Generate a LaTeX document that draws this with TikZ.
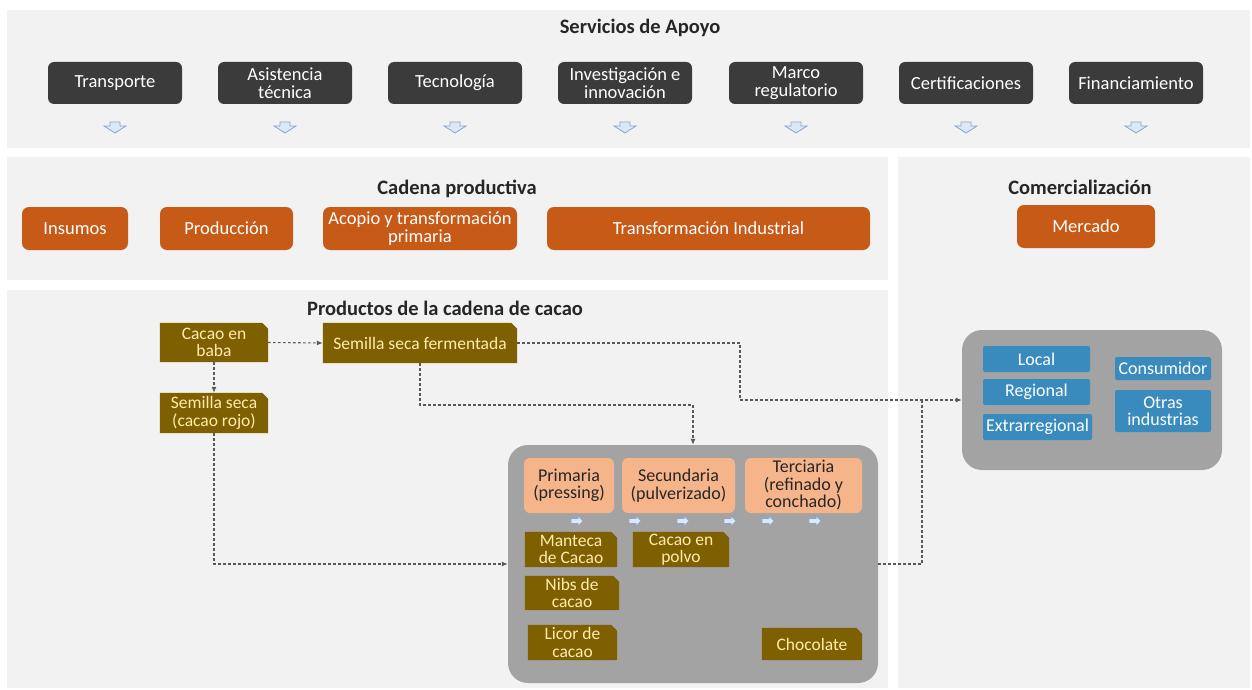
\documentclass[tikz,border=0pt]{standalone}
\usepackage{fontspec}
\setmainfont{Carlito}
\usetikzlibrary{arrows.meta,calc}
\definecolor{panel}{HTML}{F2F2F2}
\definecolor{darkbox}{HTML}{3B3B3B}
\definecolor{orangebox}{HTML}{C85A17}
\definecolor{brownbox}{HTML}{7F6000}
\definecolor{browntext}{HTML}{FFEBB0}
\definecolor{salmon}{HTML}{F6B48A}
\definecolor{graybox}{HTML}{A3A3A3}
\definecolor{bluebox}{HTML}{3A8BBD}
\definecolor{linec}{HTML}{5A5A50}
\definecolor{arrfill}{HTML}{DDE8F5}
\definecolor{arrline}{HTML}{8AA6CF}
\pgfdeclarelayer{back}
\pgfdeclarelayer{mid}
\pgfsetlayers{back,mid,main}
\tikzset{
  base/.style={font=\fontsize{18.5}{18}\selectfont,align=center,inner sep=0pt},
  darkb/.style={base,fill=darkbox,text=white,rounded corners=6pt},
  orangeb/.style={base,fill=orangebox,text=white,rounded corners=7pt},
  brownb/.style={base,font=\fontsize{17.5}{17.5}\selectfont,text=browntext},
  salmonb/.style={base,font=\fontsize{18}{17.5}\selectfont,fill=salmon,text=black!85,rounded corners=6pt},
  blueb/.style={base,font=\fontsize{18}{17.5}\selectfont,fill=bluebox,text=white,rounded corners=2pt},
  grayb/.style={fill=graybox,rounded corners=20pt,inner sep=0pt},
  ttl/.style={font=\fontsize{20.5}{22}\selectfont\bfseries,text=black!85},
  conn/.style={draw=linec,line width=1.1pt,dash pattern=on 2.5pt off 2.5pt,-{Latex[length=6pt,width=5pt]}},
  connplain/.style={draw=linec,line width=1.1pt,dash pattern=on 2.5pt off 2.5pt},
  downarr/.pic={\filldraw[fill=arrfill,draw=arrline,line width=0.8pt] (-5,-5)--(5,-5)--(5,-1)--(11,-1)--(0,6)--(-11,-1)--(-5,-1)--cycle;},
  rarr/.pic={\filldraw[fill=arrfill,draw=arrline,line width=0.6pt] (-6,-2.5)--(1,-2.5)--(1,-5)--(6,0)--(1,5)--(1,2.5)--(-6,2.5)--cycle;}
}
\begin{document}
\begin{tikzpicture}[x=1pt,y=-1pt]
\useasboundingbox (0,0) rectangle (1252,690);
\begin{pgfonlayer}{back}
\fill[white] (0,0) rectangle (1252,690);
\fill[panel] (7,10) rectangle (1250,148);
\fill[panel] (7,157) rectangle (888,280);
\fill[panel] (898,157) rectangle (1250,688);
\fill[panel] (7,290) rectangle (888,688);
\node[grayb,minimum width=370pt,minimum height=238pt] (tbox) at (693,564) {};
\node[grayb,minimum width=260pt,minimum height=140pt] (mbox) at (1092,400) {};
\end{pgfonlayer}

% titles
\node[ttl] (t1) at (640,28) {Servicios de Apoyo};
\node[ttl] (t2) at (457,189) {Cadena productiva};
\node[ttl] (t3) at (1080,187) {Comercialización};
\node[ttl] (t4) at (445,308) {Productos de la cadena de cacao};

% support services
\node[darkb,minimum width=134pt,minimum height=42pt] (s1) at (115,83) {Transporte};
\node[darkb,minimum width=134pt,minimum height=42pt] (s2) at (285,83) {Asistencia\\técnica};
\node[darkb,minimum width=134pt,minimum height=42pt] (s3) at (455,83) {Tecnología};
\node[darkb,minimum width=134pt,minimum height=42pt] (s4) at (625,83) {Investigación e\\innovación};
\node[darkb,minimum width=134pt,minimum height=42pt] (s5) at (796,83) {Marco\\regulatorio};
\node[darkb,minimum width=134pt,minimum height=42pt] (s6) at (966,83) {Certificaciones};
\node[darkb,minimum width=134pt,minimum height=42pt] (s7) at (1136,83) {Financiamiento};
\foreach \x in {115,285,455,625,796,966,1136} \pic at (\x,127) {downarr};

% cadena productiva
\node[orangeb,minimum width=106pt,minimum height=43pt] (c1) at (75,228.5) {Insumos};
\node[orangeb,minimum width=133pt,minimum height=43pt] (c2) at (226.5,228.5) {Producción};
\node[orangeb,minimum width=194pt,minimum height=43pt] (c3) at (420,228.5) {Acopio y transformación\\primaria};
\node[orangeb,minimum width=323pt,minimum height=43pt] (c4) at (708.5,228.5) {Transformación Industrial};
\node[orangeb,minimum width=138pt,minimum height=43pt] (c5) at (1086,226.5) {Mercado};

% products
\node[brownb,minimum width=108pt,minimum height=39pt] (cb) at (214,342.5) {Cacao en\\baba};
\node[brownb,minimum width=194pt,minimum height=40pt] (ssf) at (420,343) {Semilla seca fermentada};
\node[brownb,minimum width=108pt,minimum height=40pt] (scr) at (214,413) {Semilla seca\\(cacao rojo)};

\node[salmonb,minimum width=90pt,minimum height=55pt] (pri) at (569,485.5) {Primaria\\(pressing)};
\node[salmonb,minimum width=113pt,minimum height=55pt] (sec) at (678.5,485.5) {Secundaria\\(pulverizado)};
\node[salmonb,minimum width=117pt,minimum height=55pt] (ter) at (803.5,485.5) {Terciaria\\(refinado y\\conchado)};
\foreach \x in {577,635,683,730,768,815} \pic at (\x,521) {rarr};

\node[brownb,minimum width=92pt,minimum height=35pt] (man) at (571,549.5) {Manteca\\de Cacao};
\node[brownb,minimum width=96pt,minimum height=35pt] (cep) at (681,549.5) {Cacao en\\polvo};
\node[brownb,minimum width=94pt,minimum height=34pt] (nib) at (572,593) {Nibs de\\cacao};
\node[brownb,minimum width=89pt,minimum height=35pt] (lic) at (572.5,642.5) {Licor de\\cacao};
\node[brownb,minimum width=100pt,minimum height=32pt] (cho) at (812,644) {Chocolate};

\begin{pgfonlayer}{mid}
\foreach \n in {cb,ssf,scr,man,cep,nib,lic,cho}
  \fill[brownbox] (\n.south west) -- (\n.north west) -- ([xshift=-6pt]\n.north east) -- ([yshift=-6pt]\n.north east) -- (\n.south east) -- cycle;
\end{pgfonlayer}

% market
\node[blueb,minimum width=107pt,minimum height=26pt] (loc) at (1036.5,359) {Local};
\node[blueb,minimum width=107pt,minimum height=26pt] (reg) at (1036.5,392) {Regional};
\node[blueb,minimum width=109pt,minimum height=26pt] (ext) at (1037.5,427) {Extrarregional};
\node[blueb,minimum width=96pt,minimum height=23pt] (con) at (1163,368.5) {Consumidor};
\node[blueb,minimum width=96pt,minimum height=42pt] (otr) at (1163,411) {Otras\\industrias};

% connectors
\coordinate (j1) at (0,405);
\coordinate (j2) at (740,400);
\coordinate (j3) at (922,400);
\draw[conn] (cb.east) -- (ssf.west);
\draw[conn] (cb.south) -- (scr.north);
\draw[conn] (ssf.south) -- (ssf.south |- j1) -| (tbox.north);
\draw[conn] (ssf.east) -| (j2) -- (mbox.west);
\draw[conn] (scr.south) |- (tbox.west);
\draw[connplain] (tbox.east) -| (j3);
\end{tikzpicture}
\end{document}
